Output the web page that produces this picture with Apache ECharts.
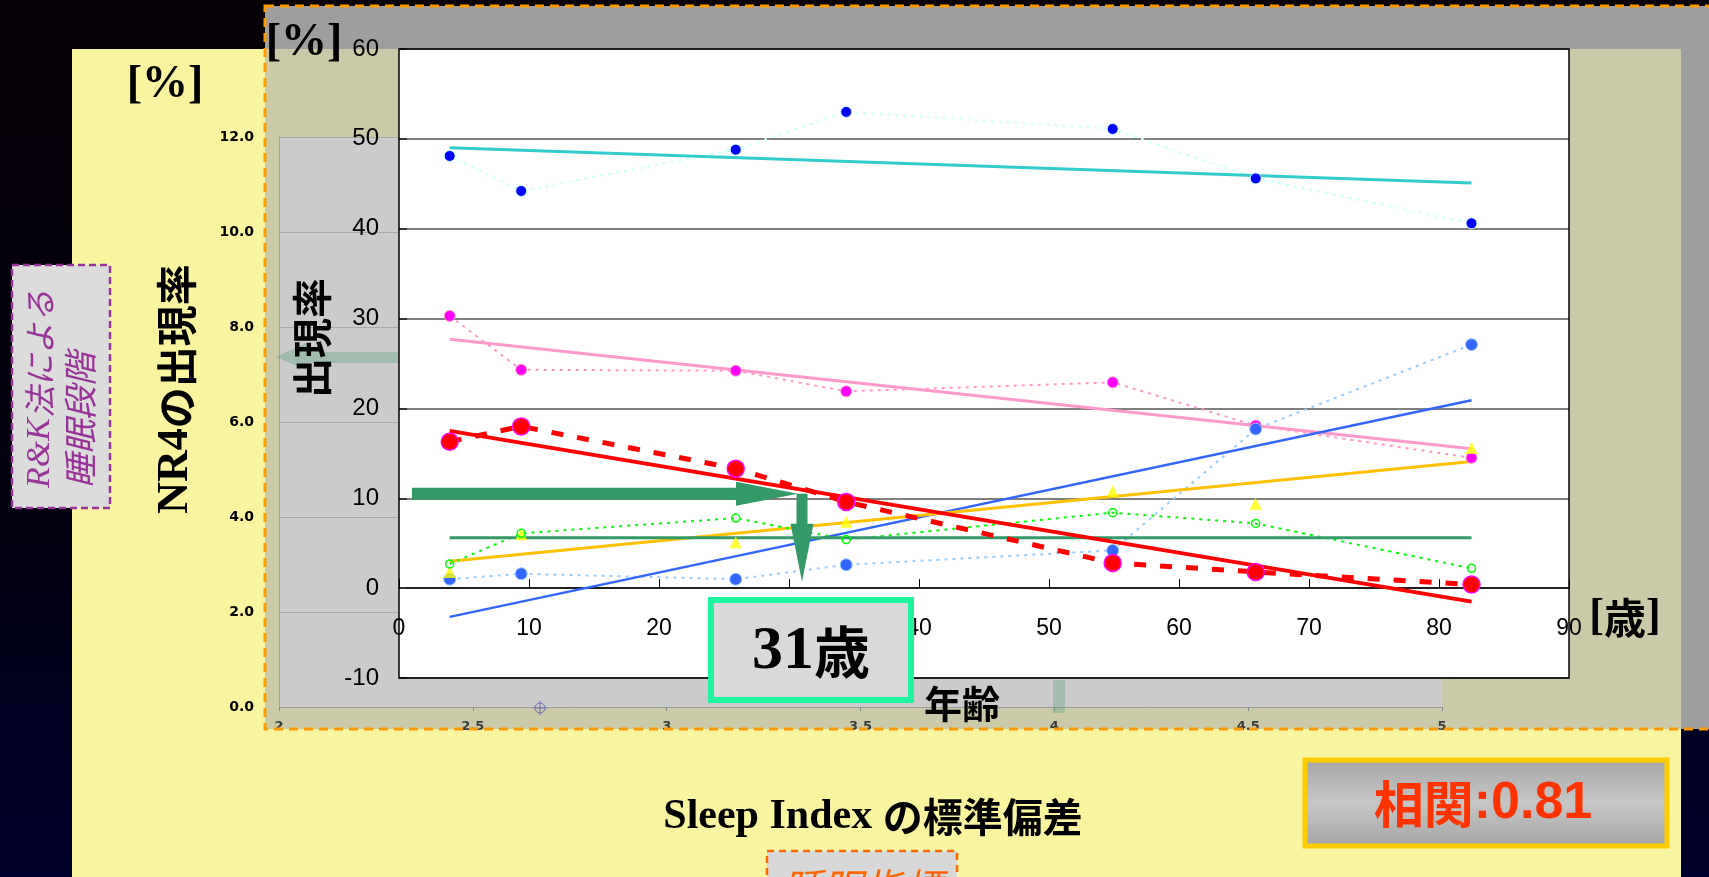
<!DOCTYPE html>
<html>
<head>
<meta charset="utf-8">
<script src="https://cdn.jsdelivr.net/npm/echarts@6/dist/echarts.min.js"></script>
<style>
  html, body { margin: 0; padding: 0; background: #000; overflow: hidden; }
  #c { width: 1709px; height: 877px; }
</style>
</head>
<body>
<div id="c"></div>
<script>
// Sleep-stage occurrence rate [%] by age, with linear trend lines
const ages = [3.9, 9.4, 25.9, 34.4, 54.9, 65.9, 82.5];
const stage2 = [48.1, 44.2, 48.8, 53.0, 51.1, 45.6, 40.6];
const rem    = [30.3, 24.3, 24.2, 21.9, 22.9, 18.1, 14.5];
const wake   = [1.0, 1.6, 1.0, 2.6, 4.2, 17.7, 27.1];
const stage1 = [1.8, 6.0, 5.1, 7.4, 10.8, 9.4, 15.6];
const stage3 = [2.7, 6.1, 7.8, 5.4, 8.4, 7.2, 2.2];
const stage4 = [16.3, 18.0, 13.3, 9.6, 2.8, 1.8, 0.4];

// trend lines: value at the first and last age
const trendAges   = [3.9, 82.5];
const stage2Trend = [49.0, 45.1];
const remTrend    = [27.7, 15.5];
const wakeTrend   = [-3.2, 20.9];
const stage1Trend = [3.0, 14.1];
const stage3Trend = [5.6, 5.6];
const stage4Trend = [17.5, -1.5];

// axis ticks
const ageTicks = [0, 90, 10];        // min, max, interval
const rateTicks = [-10, 60, 10];
const sdTicks = [2, 5, 0.5];          // Sleep Index standard deviation axis
const sdRateTicks = [0, 12, 2];

// annotation: NR4 rate level read across to age
const arrowFromAge = 1.0;
const arrowLevel = 10.5;
const arrowAge = 31;
const arrowTipLevel = 0.7;
const ageText = '31歳';
const corrText = '0.81';

const SERIF = '"Liberation Serif", "Times New Roman", serif';
const SANS = '"Liberation Sans", Arial, sans-serif';
const JP = '"Noto Sans CJK JP", "Noto Sans CJK SC", sans-serif';
const DOT = [3, 5];

// main plot box
const PLOT = { left: 399, top: 49, width: 1170, height: 629 };
// the age axis runs along rate 0
const zeroOffset = -PLOT.height * (0 - rateTicks[0]) / (rateTicks[1] - rateTicks[0]);

function pairs(xs, ys) { return xs.map((x, i) => [x, ys[i]]); }

const chart = echarts.init(document.getElementById('c'), null, { renderer: 'canvas' });

function dotted(name, ys, lineColor, symColor, size, extra) {
  return Object.assign({
    name, type: 'line', xAxisIndex: 0, yAxisIndex: 0, z: 5,
    data: pairs(ages, ys),
    lineStyle: { color: lineColor, width: 2, type: DOT },
    symbol: 'circle', symbolSize: size,
    itemStyle: { color: symColor, borderColor: lineColor, borderWidth: 1 },
    animation: false, silent: true
  }, extra || {});
}
function trend(name, ys, color, width) {
  return {
    name, type: 'line', xAxisIndex: 0, yAxisIndex: 0, z: 5,
    data: pairs(trendAges, ys), symbol: 'none',
    lineStyle: { color, width }, animation: false, silent: true
  };
}

const option = {
  backgroundColor: 'transparent',
  animation: false,
  grid: [
    { left: PLOT.left, top: PLOT.top, width: PLOT.width, height: PLOT.height, show: true,
      backgroundColor: '#FFFFFF', borderWidth: 0, z: 3 },
    { left: 279, top: 137, width: 1163, height: 570, show: true,
      backgroundColor: '#CBCBCB', borderWidth: 0, z: 1 }
  ],
  xAxis: [
    { type: 'value', gridIndex: 0, min: ageTicks[0], max: ageTicks[1], interval: ageTicks[2], z: 4,
      position: 'bottom', offset: zeroOffset,
      axisLine: { show: true, onZero: false, lineStyle: { color: '#000', width: 1.5 } },
      axisTick: { show: true, inside: true, length: 9, lineStyle: { color: '#000', width: 1 } },
      axisLabel: { color: '#000', fontSize: 23, fontFamily: SANS, margin: 29 },
      splitLine: { show: false } },
    { type: 'value', gridIndex: 1, min: sdTicks[0], max: sdTicks[1], interval: sdTicks[2], z: 1,
      axisLine: { show: true, lineStyle: { color: '#9A9A9A', width: 1 } },
      axisTick: { show: true, length: 4, lineStyle: { color: '#8A8A8A' } },
      axisLabel: { color: '#3A3A3A', fontSize: 13, fontWeight: 'bold', fontFamily: '"DejaVu Sans", sans-serif', margin: 13,
        formatter: v => String(v) },
      splitLine: { show: false } }
  ],
  yAxis: [
    { type: 'value', gridIndex: 0, min: rateTicks[0], max: rateTicks[1], interval: rateTicks[2], z: 4,
      axisLine: { show: false },
      axisTick: { show: true, inside: true, length: 8, lineStyle: { color: '#333', width: 2 } },
      axisLabel: { color: '#000', fontSize: 24, fontFamily: SANS, margin: 20 },
      splitLine: { show: true, lineStyle: { color: '#808080', width: 2 } } },
    { type: 'value', gridIndex: 1, min: sdRateTicks[0], max: sdRateTicks[1], interval: sdRateTicks[2], z: 1,
      axisLine: { show: true, lineStyle: { color: '#A0A0A0', width: 1 } },
      axisTick: { show: false },
      axisLabel: { color: '#000', fontSize: 14, fontWeight: 'bold', fontFamily: '"DejaVu Sans", sans-serif', margin: 25,
        formatter: v => v.toFixed(1) },
      splitLine: { show: true, lineStyle: { color: '#A9A9A9', width: 1 } } }
  ],
  series: [
    dotted('stage2', stage2, '#CCFFFF', '#0000FF', 11),
    trend('stage2 trend', stage2Trend, '#33CCCC', 3),
    dotted('rem', rem, '#FF99CC', '#FF00FF', 11),
    trend('rem trend', remTrend, '#FF99CC', 3),
    dotted('wake', wake, '#99CCFF', '#3366FF', 12),
    trend('wake trend', wakeTrend, '#3366FF', 2.5),
    { name: 'stage1', type: 'scatter', xAxisIndex: 0, yAxisIndex: 0, z: 5,
      data: pairs(ages, stage1), symbol: 'triangle', symbolSize: 12,
      itemStyle: { color: '#FFFF00' }, animation: false, silent: true },
    trend('stage1 trend', stage1Trend, '#FFC000', 3),
    dotted('stage3', stage3, '#00FF00', 'rgba(0,0,0,0)', 8,
      { itemStyle: { color: 'rgba(0,0,0,0)', borderColor: '#00FF00', borderWidth: 1.5 } }),
    trend('stage3 trend', stage3Trend, '#339966', 3),
    dotted('stage4', stage4, '#FF0000', '#FF0000', 17,
      { lineStyle: { color: '#FF0000', width: 5, type: [12, 14] },
        itemStyle: { color: '#FF0000', borderColor: '#FF00FF', borderWidth: 1.5 } }),
    trend('stage4 trend', stage4Trend, '#FF0000', 4)
  ]
};
chart.setOption(option);

// annotation arrows placed from data values through the chart's scales
const toPx = p => chart.convertToPixel({ gridIndex: 0 }, p);
const pFrom = toPx([arrowFromAge, arrowLevel]);
const pTurn = toPx([arrowAge, arrowLevel]);
const pTip = toPx([arrowAge, arrowTipLevel]);
const hy = pFrom[1], hx0 = pFrom[0], hx1 = pTurn[0] - 4;
const cx = pTurn[0];

const g = [];
// slide background
g.push({ type: 'rect', z: -30, shape: { x: 0, y: 0, width: 1709, height: 877 },
  style: { fill: new echarts.graphic.LinearGradient(0, 0, 0, 1, [
    { offset: 0, color: '#060006' }, { offset: 0.6, color: '#020010' }, { offset: 1, color: '#00002E' }]) } });
g.push({ type: 'rect', z: -25, shape: { x: 265, y: 6, width: 1444, height: 723 }, style: { fill: '#9E9E9E' } });
g.push({ type: 'rect', z: -20, shape: { x: 72, y: 49, width: 1609, height: 828 }, style: { fill: '#F8F4A0' } });
g.push({ type: 'rect', z: -15, shape: { x: 265, y: 49, width: 1416, height: 680 }, style: { fill: '#CACAA8' } });
// faint marks on the underlying panel
g.push({ type: 'polygon', z: 2, shape: { points: [[276, 357], [306, 343], [306, 352], [398, 352], [398, 363], [306, 363], [306, 370]] },
  style: { fill: 'rgba(80,160,120,0.35)' } });
g.push({ type: 'rect', z: 2, shape: { x: 1053, y: 680, width: 12, height: 33 }, style: { fill: 'rgba(80,160,120,0.3)' } });
g.push({ type: 'circle', z: 2, shape: { cx: 540, cy: 708, r: 5 }, style: { fill: 'none', stroke: '#7070B0', lineWidth: 1 } });
g.push({ type: 'line', z: 2, shape: { x1: 533, y1: 708, x2: 547, y2: 708 }, style: { stroke: '#7070B0', lineWidth: 1 } });
g.push({ type: 'line', z: 2, shape: { x1: 540, y1: 701, x2: 540, y2: 715 }, style: { stroke: '#7070B0', lineWidth: 1 } });
// dashed frame of the panel
g.push({ type: 'rect', z: 60, shape: { x: 265, y: 6, width: 1470, height: 723 },
  style: { fill: 'none', stroke: '#FF9900', lineWidth: 3, lineDash: [9, 6] } });
// plot frame
g.push({ type: 'rect', z: 20, shape: { x: PLOT.left, y: PLOT.top, width: PLOT.width, height: PLOT.height },
  style: { fill: 'none', stroke: '#000', lineWidth: 1.5 } });

// arrows
g.push({ type: 'polygon', z: 12, shape: { points: [
  [hx0, hy - 6], [hx1 - 62, hy - 6], [hx1 - 62, hy - 12], [hx1, hy], [hx1 - 62, hy + 12], [hx1 - 62, hy + 6], [hx0, hy + 6]] },
  style: { fill: '#339966' } });
g.push({ type: 'polygon', z: 12, shape: { points: [
  [cx - 5.5, hy], [cx + 5.5, hy], [cx + 5.5, pTip[1] - 58], [cx + 11.5, pTip[1] - 58], [cx, pTip[1]],
  [cx - 11.5, pTip[1] - 58], [cx - 5.5, pTip[1] - 58]] },
  style: { fill: '#339966' } });

function txt(x, y, text, rich, opts) {
  return Object.assign({ type: 'text', z: 30, x, y,
    style: { text, rich, align: 'center', verticalAlign: 'middle' } }, opts || {});
}
const bold = (ff, fs, fill, extra) => Object.assign({ fontFamily: ff, fontSize: fs, fontWeight: 'bold', fill: fill || '#000' }, extra || {});

// axis titles
g.push(txt(304, 43, '{s|[%]}', { s: bold(SERIF, 46) }));
g.push(txt(165, 85, '{s|[%]}', { s: bold(SERIF, 46) }));
g.push(txt(312, 338, '{j|出現率}', { j: bold(JP, 40) }, { rotation: Math.PI / 2 }));
g.push(txt(176, 389, '{s|NR4}{j|の出現率}', { s: bold(SERIF, 44), j: bold(JP, 41) }, { rotation: Math.PI / 2 }));
g.push(txt(962, 704, '{j|年齢}', { j: bold(JP, 38) }));
g.push(txt(1625, 618, '{s|[}{j|歳}{s|]}', { s: bold(SERIF, 44), j: bold(JP, 42) }));
g.push(txt(873, 817, '{s|Sleep Index }{j|の標準偏差}', { s: bold(SERIF, 42), j: bold(JP, 40) }));

// R&K box
g.push({ type: 'rect', z: 40, shape: { x: 12, y: 265, width: 98, height: 243 },
  style: { fill: '#DCDCDC', stroke: '#993399', lineWidth: 2.5, lineDash: [7, 4] } });
g.push({ type: 'text', z: 41, x: 40, y: 488, rotation: Math.PI / 2,
  style: { text: '{s|R&K}{j|法による}', align: 'left', verticalAlign: 'middle',
    rich: { s: { fontFamily: SERIF, fontSize: 34, fontStyle: 'italic', fill: '#993399' },
            j: { fontFamily: JP, fontSize: 32, fontStyle: 'italic', fill: '#993399' } } } });
g.push({ type: 'text', z: 41, x: 80, y: 488, rotation: Math.PI / 2,
  style: { text: '睡眠段階', align: 'left', verticalAlign: 'middle',
    fontFamily: JP, fontSize: 34, fontStyle: 'italic', fill: '#993399' } });

// age result box
g.push({ type: 'rect', z: 40, shape: { x: 711, y: 600, width: 200, height: 100 },
  style: { fill: '#D9D9D9', stroke: '#1EF59E', lineWidth: 6 } });
g.push(txt(811, 652, '{s|' + ageText.slice(0, 2) + '}{j|' + ageText.slice(2) + '}',
  { s: bold(SERIF, 62), j: bold(JP, 56) }, { z: 41 }));

// correlation box
g.push({ type: 'rect', z: 40, shape: { x: 1305, y: 760, width: 362, height: 86 },
  style: { fill: new echarts.graphic.LinearGradient(0, 0, 0, 1, [
    { offset: 0, color: '#A6A6A6' }, { offset: 0.5, color: '#C6C6C6' }, { offset: 1, color: '#A4A4A4' }]),
    stroke: '#FFCC00', lineWidth: 5 } });
g.push(txt(1483, 804, '{j|相関}{s|:' + corrText + '}',
  { j: bold(JP, 50, '#FF3300'), s: bold(SANS, 52, '#FF3300') }, { z: 41 }));

// sleep index box (runs off the bottom edge)
g.push({ type: 'rect', z: 40, shape: { x: 767, y: 851, width: 190, height: 80 },
  style: { fill: '#D8D8D8', stroke: '#FF6600', lineWidth: 2.5, lineDash: [7, 5] } });
g.push(txt(862, 888, '睡眠指標', null, { z: 41,
  style: { text: '睡眠指標', align: 'center', verticalAlign: 'middle',
    fontFamily: JP, fontSize: 40, fontStyle: 'italic', fill: '#FF6600' } }));

chart.setOption({ graphic: { elements: g } });
</script>
</body>
</html>
